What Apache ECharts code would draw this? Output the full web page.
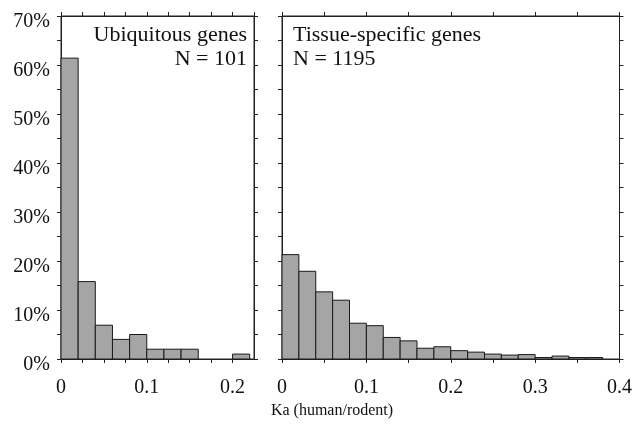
<!DOCTYPE html>
<html>
<head>
<meta charset="utf-8">
<script src="https://cdn.jsdelivr.net/npm/echarts@6/dist/echarts.min.js"></script>
<style>
html,body{margin:0;padding:0;background:#fff;}
#chart{width:635px;height:443px;}
</style>
</head>
<body>
<div id="chart"></div>
<script>
// ---- data ----
var binWidth = 0.02;
var ubiqBinStart = [0, 0.02, 0.04, 0.06, 0.08, 0.10, 0.12, 0.14, 0.16, 0.18, 0.20];
var ubiqPercent  = [61.4, 15.8, 6.9, 4.0, 5.0, 2.0, 2.0, 2.0, 0, 0, 1.0];
var tissBinStart = [0, 0.02, 0.04, 0.06, 0.08, 0.10, 0.12, 0.14, 0.16, 0.18,
                    0.20, 0.22, 0.24, 0.26, 0.28, 0.30, 0.32, 0.34, 0.36];
var tissPercent  = [21.3, 17.9, 13.7, 12.0, 7.3, 6.8, 4.4, 3.7, 2.2, 2.5,
                    1.7, 1.4, 1.0, 0.8, 0.9, 0.3, 0.6, 0.3, 0.3];
var yTicks = [0, 10, 20, 30, 40, 50, 60, 70];
var leftXTicks = [0, 0.1, 0.2];
var rightXTicks = [0, 0.1, 0.2, 0.3, 0.4];
var ubiqTitle = ['Ubiquitous genes', 'N = 101'];
var tissTitle = ['Tissue-specific genes', 'N = 1195'];
var xTitle = 'Ka (human/rodent)';

var FONT = 'Liberation Serif';
var chart = echarts.init(document.getElementById('chart'));

function near(list, v){
  for (var i=0;i<list.length;i++){ if (Math.abs(list[i]-v) < 1e-6) return true; }
  return false;
}
function xLabelFmt(list){
  return function(v){ return near(list, v) ? String(+v.toFixed(1)) : ''; };
}
function yLabelFmt(v){ return near(yTicks, v) ? Math.round(v) + '%' : ''; }

var lineStyle = {color:'#222', width:1};
function baseAxis(extra){
  var a = {
    type:'value',
    axisLine:{show:true, onZero:false, lineStyle:lineStyle},
    axisTick:{show:true, inside:false, length:4, lineStyle:lineStyle},
    splitLine:{show:false},
    axisLabel:{show:false}
  };
  for (var k in extra) a[k] = extra[k];
  return a;
}
var xLabelStyle = {fontFamily:FONT, fontSize:20, color:'#111', margin:19};

function renderBar(params, api){
  var x0 = api.value(0), v = api.value(1);
  if (!(v > 0)) return null;
  var p1 = api.coord([x0, v]);
  var p2 = api.coord([x0 + binWidth, 0]);
  return {
    type:'rect',
    shape:{x:p1[0], y:p1[1], width:p2[0]-p1[0], height:p2[1]-p1[1]},
    style:{fill:'#a5a5a5', stroke:'#1a1a1a', lineWidth:1}
  };
}

var option = {
  animation:false,
  backgroundColor:'#fff',
  grid:[
    {left:61, top:16, width:193, height:343, show:true, borderColor:'#222', borderWidth:1, backgroundColor:'transparent'},
    {left:282, top:16, width:339, height:343, show:true, borderColor:'#222', borderWidth:1, backgroundColor:'transparent'}
  ],
  xAxis:[
    baseAxis({gridIndex:0, position:'bottom', min:0, max:0.225, interval:0.025,
      axisLabel:Object.assign({show:true, formatter:xLabelFmt(leftXTicks), showMaxLabel:false}, xLabelStyle)}),
    baseAxis({gridIndex:0, position:'top', min:0, max:0.225, interval:0.025}),
    baseAxis({gridIndex:1, position:'bottom', min:0, max:0.4, interval:0.05,
      axisLabel:Object.assign({show:true, formatter:xLabelFmt(rightXTicks), showMaxLabel:true}, xLabelStyle)}),
    baseAxis({gridIndex:1, position:'top', min:0, max:0.4, interval:0.05})
  ],
  yAxis:[
    baseAxis({gridIndex:0, position:'left', min:0, max:70, interval:5,
      axisLabel:{show:true, formatter:yLabelFmt, fontFamily:FONT, fontSize:20, color:'#111', margin:11,
                 verticalAlign:'top', lineHeight:12}}),
    baseAxis({gridIndex:0, position:'right', min:0, max:70, interval:5}),
    baseAxis({gridIndex:1, position:'left', min:0, max:70, interval:5}),
    baseAxis({gridIndex:1, position:'right', min:0, max:70, interval:5})
  ],
  graphic:[
    {type:'text', x:247, y:23, style:{text:ubiqTitle.join('\n'), align:'right', font:'22px "Liberation Serif"', fill:'#111', lineHeight:24}},
    {type:'text', x:293, y:23, style:{text:tissTitle.join('\n'), align:'left', font:'22px "Liberation Serif"', fill:'#111', lineHeight:24}},
    {type:'text', x:332, y:403, style:{text:xTitle, align:'center', font:'16px "Liberation Serif"', fill:'#111'}}
  ],
  series:[
    {type:'custom', xAxisIndex:0, yAxisIndex:0, renderItem:renderBar,
     data: ubiqBinStart.map(function(s,i){ return [s, ubiqPercent[i]]; })},
    {type:'custom', xAxisIndex:2, yAxisIndex:2, renderItem:renderBar,
     data: tissBinStart.map(function(s,i){ return [s, tissPercent[i]]; })}
  ]
};
chart.setOption(option);
</script>
</body>
</html>
